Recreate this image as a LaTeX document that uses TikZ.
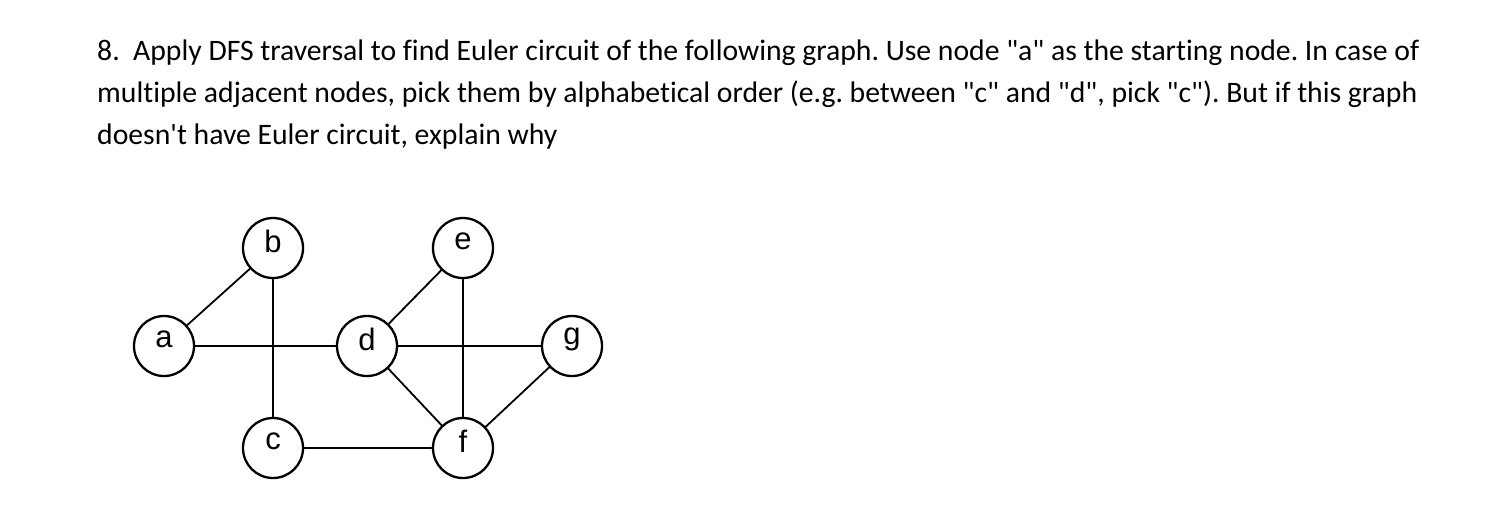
\documentclass[tikz,border=0pt]{standalone}
\usepackage{fontspec}
\newfontfamily\qfont{Carlito}[Ligatures={NoCommon}]
\newfontfamily\graphfont{Liberation Sans}
\begin{document}
\frenchspacing
\begin{tikzpicture}[x=1pt,y=-1pt,
  vtx/.style={circle,draw,line width=2.3pt,minimum size=60pt,inner sep=0pt,fill=white},
  vlabel/.style={font=\graphfont\fontsize{31}{31}\selectfont},
  edge/.style={line width=1.8pt},
  qline/.style={anchor=base west,inner sep=0pt,font=\qfont\fontsize{29.7}{32}\selectfont}]
\useasboundingbox (0,0) rectangle (1498,520);
\node[qline] (l1) at (97,60) {8.\ \ Apply DFS traversal to find Euler circuit of the following graph. Use node "a" as the starting node. In case of};
\node[qline] (l2) at (97,102) {multiple adjacent nodes, pick them by alphabetical order (e.g. between "c" and "d", pick "c"). But if this graph};
\node[qline] (l3) at (97,144) {doesn't have Euler circuit, explain why};
\coordinate (pa) at (164,346);
\coordinate (pb) at (273,248);
\coordinate (pc) at (273,448);
\coordinate (pd) at (367,346);
\coordinate (pe) at (463,248);
\coordinate (pf) at (463,448);
\coordinate (pg) at (572,346);
\draw[edge] (pa) -- (pb);
\draw[edge] (pb) -- (pc);
\draw[edge] (pa) -- (pd);
\draw[edge] (pd) -- (pe);
\draw[edge] (pd) -- (pg);
\draw[edge] (pd) -- (pf);
\draw[edge] (pe) -- (pf);
\draw[edge] (pg) -- (pf);
\draw[edge] (pc) -- (pf);
\foreach \n in {a,b,c,d,e,f,g}{
  \node[vtx] (\n) at (p\n) {};
  \node[vlabel] (t\n) at ([yshift=7pt]p\n) {\n};
}
\end{tikzpicture}
\end{document}
